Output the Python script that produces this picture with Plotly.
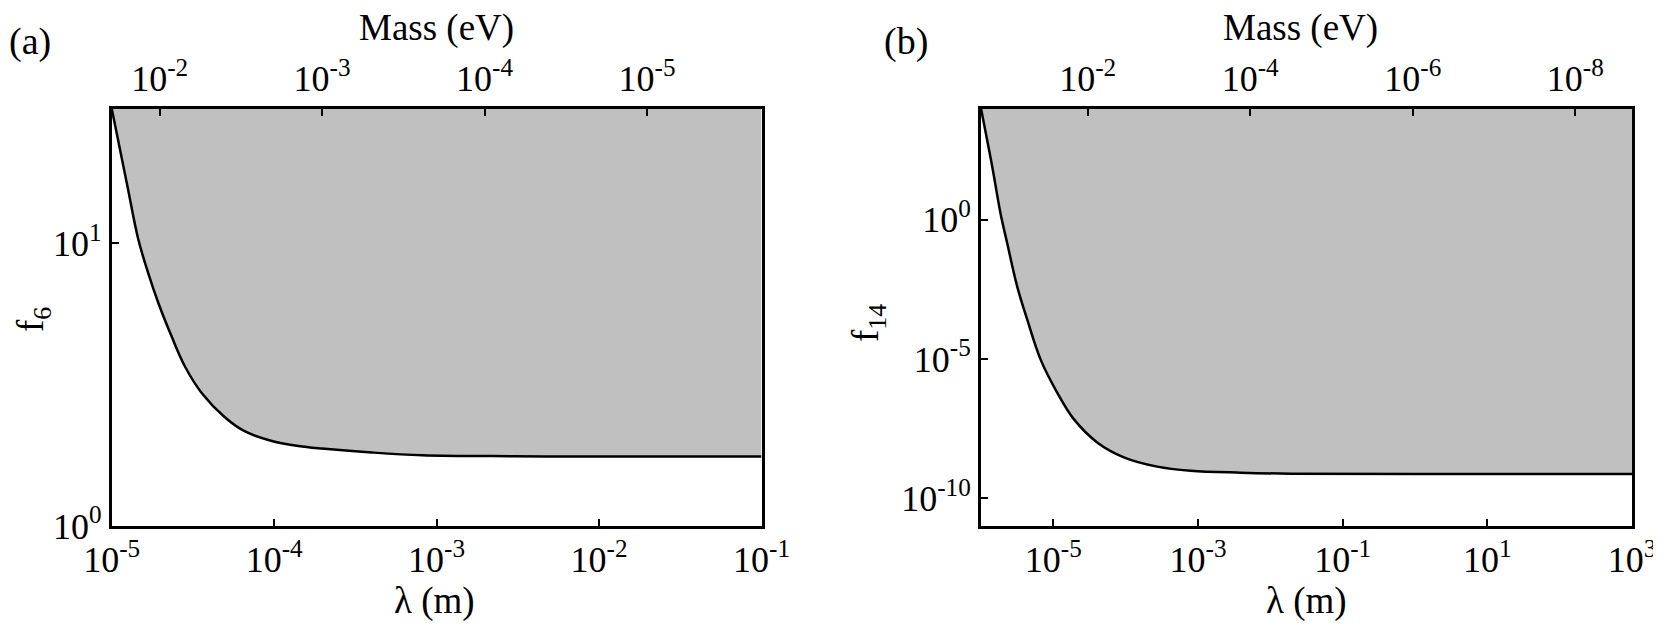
import numpy as np
import plotly.graph_objects as go

# ---- panel (a): f6 lower bound vs lambda ----
lam_a = [1.0e-5, 1.24e-5, 1.46e-5, 1.68e-5, 1.94e-5, 2.34e-5, 2.83e-5, 3.59e-5,
         4.99e-5, 6.62e-5, 9.68e-5, 1.41e-4, 1.97e-4, 4.0e-4, 8.13e-4, 3e-3, 1e-2, 1e-1]
f6 = [30, 16.3, 10.3, 7.83, 6.14, 4.68, 3.66, 2.95,
      2.42, 2.16, 2.00, 1.92, 1.88, 1.82, 1.78, 1.765, 1.76, 1.76]
f6_top = 30

# ---- panel (b): f14 lower bound vs lambda ----
lam_b = [1e-6, 1.43e-6, 1.86e-6, 2.30e-6, 3.16e-6, 4.35e-6, 6.65e-6, 1.13e-5,
         1.92e-5, 4.04e-5, 9.44e-5, 2.73e-4, 7.91e-4, 3.88e-3, 1.91e-2, 1e0, 1e3]
f14 = [1e4, 80.9, 1.74, 0.147, 4.09e-3, 2.63e-4, 9.7e-6, 6.24e-7,
       6.9e-8, 1.01e-8, 2.94e-9, 1.36e-9, 9.7e-10, 8.26e-10, 7.6e-10, 7.4e-10, 7.4e-10]
f14_top = 1e4

# tick labels
lam_ticks_a = [1e-5, 1e-4, 1e-3, 1e-2, 1e-1]
lam_text_a = ["10<sup>-5</sup>", "10<sup>-4</sup>", "10<sup>-3</sup>", "10<sup>-2</sup>", "10<sup>-1</sup>"]
mass_ticks_a = [1e-2, 1e-3, 1e-4, 1e-5]
mass_text_a = ["10<sup>-2</sup>", "10<sup>-3</sup>", "10<sup>-4</sup>", "10<sup>-5</sup>"]
f6_ticks = [1, 10]
f6_text = ["10<sup>0</sup>", "10<sup>1</sup>"]

lam_ticks_b = [1e-5, 1e-3, 1e-1, 1e1, 1e3]
lam_text_b = ["10<sup>-5</sup>", "10<sup>-3</sup>", "10<sup>-1</sup>", "10<sup>1</sup>", "10<sup>3</sup>"]
mass_ticks_b = [1e-2, 1e-4, 1e-6, 1e-8]
mass_text_b = ["10<sup>-2</sup>", "10<sup>-4</sup>", "10<sup>-6</sup>", "10<sup>-8</sup>"]
f14_ticks = [1e-10, 1e-5, 1]
f14_text = ["10<sup>-10</sup>", "10<sup>-5</sup>", "10<sup>0</sup>"]

HC = 1.97327e-7  # eV m

W, H = 1661, 632
OFF = 8  # page body margin
FONT = "Liberation Serif"
FS = 36


def band(fig, lam, f, top, xa, ya, xm):
    fig.add_trace(go.Scatter(
        x=lam, y=[top] * len(lam), xaxis=xa, yaxis=ya,
        mode="lines", line=dict(width=0, color="rgba(0,0,0,0)"),
        showlegend=False, hoverinfo="skip"
    ))
    fig.add_trace(go.Scatter(
        x=lam, y=f, xaxis=xa, yaxis=ya,
        mode="lines", line=dict(color="black", width=2.5, shape="spline", smoothing=1.0),
        fill="tonexty", fillcolor="#c0c0c0", showlegend=False
    ))
    # invisible copy on the mass axis so the top axis is drawn
    fig.add_trace(go.Scatter(
        x=[HC / l for l in lam], y=f, xaxis=xm, yaxis=ya,
        mode="lines", line=dict(width=0, color="rgba(0,0,0,0)"),
        showlegend=False, hoverinfo="skip"
    ))


fig = go.Figure()
band(fig, lam_a, f6, f6_top, "x", "y", "x3")
band(fig, lam_b, f14, f14_top, "x2", "y2", "x4")

common = dict(
    type="log", showgrid=False, zeroline=False, ticks="inside", ticklen=7, tickwidth=2,
    tickcolor="black", tickfont=dict(family=FONT, size=FS, color="black"), automargin=False,
)
frame = dict(showline=True, linewidth=3, linecolor="black", mirror=True)


def px_x(p):
    return (p - OFF) / W


def px_y(p):
    return 1 - (p - OFF) / H


ydom = [px_y(526), px_y(108.5)]
xdom_a = [px_x(111.7), px_x(761.5)]
xdom_b = [px_x(981), px_x(1632)]

fig.update_layout(
    width=W, height=H,
    margin=dict(l=0, r=0, t=0, b=0),
    paper_bgcolor="white", plot_bgcolor="white",
    xaxis=dict(domain=xdom_a, anchor="y", range=[-5, -1],
               tickvals=lam_ticks_a, ticktext=lam_text_a, **common, **frame),
    yaxis=dict(domain=ydom, anchor="x", range=[0, np.log10(f6_top)],
               tickvals=f6_ticks, ticktext=f6_text, **common, **frame),
    xaxis3=dict(overlaying="x", anchor="y", side="top",
                range=[np.log10(HC / 1e-5), np.log10(HC / 1e-1)], ticklabelstandoff=9,
                tickvals=mass_ticks_a, ticktext=mass_text_a, showline=False, **common),
    xaxis2=dict(domain=xdom_b, anchor="y2", range=[-6, 3],
                tickvals=lam_ticks_b, ticktext=lam_text_b, **common, **frame),
    yaxis2=dict(domain=ydom, anchor="x2", range=[-11, 4],
                tickvals=f14_ticks, ticktext=f14_text, **common, **frame),
    xaxis4=dict(overlaying="x2", anchor="y2", side="top", range=[-0.687, -8.698],
                ticklabelstandoff=9,
                tickvals=mass_ticks_b, ticktext=mass_text_b, showline=False, **common),
)


def label(text, px, py, angle=0, size=FS):
    fig.add_annotation(text=text, x=px_x(px), y=px_y(py), xref="paper", yref="paper",
                       xanchor="center", yanchor="middle", showarrow=False, textangle=angle,
                       font=dict(family=FONT, size=size, color="black"))


label("(a)", 30, 42, size=38)
label("(b)", 906, 42, size=38)
label("Mass (eV)", 436, 28, size=37)
label("Mass (eV)", 1300, 28, size=37)
label("λ (m)", 434, 601, size=37)
label("λ (m)", 1306, 601, size=37)
label("f<sub>6</sub>", 33, 320, angle=-90, size=37)
label("f<sub>14</sub>", 868, 323, angle=-90, size=37)

fig.write_html("out.html")
